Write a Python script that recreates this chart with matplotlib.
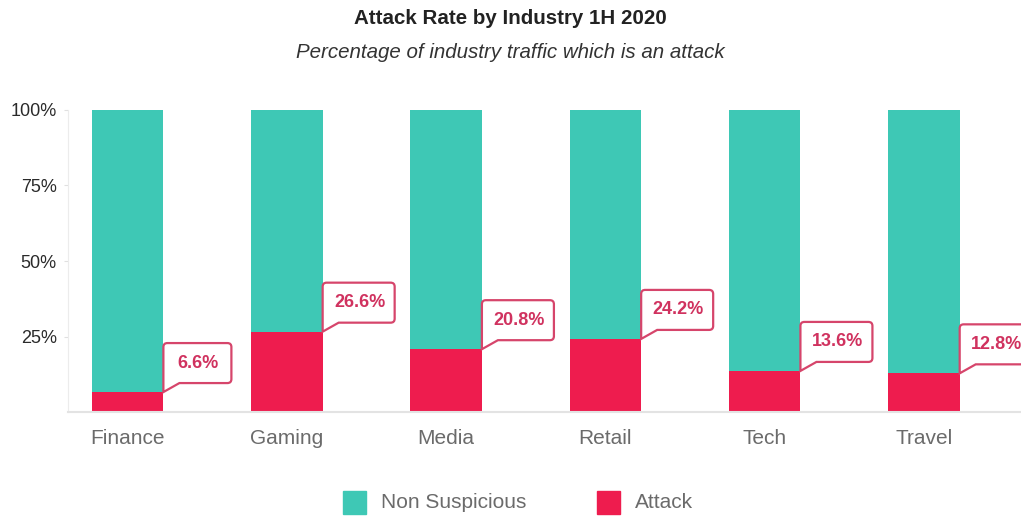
import matplotlib.pyplot as plt
import matplotlib.transforms as transforms
from matplotlib.path import Path
from matplotlib.patches import PathPatch, Rectangle

plt.rcParams['font.family'] = ['Liberation Sans', 'DejaVu Sans']

# data
industries = ["Finance", "Gaming", "Media", "Retail", "Tech", "Travel"]
attack = [6.6, 26.6, 20.8, 24.2, 13.6, 12.8]
non_suspicious = [100 - a for a in attack]
y_ticks = [25, 50, 75, 100]
y_tick_labels = ["25%", "50%", "75%", "100%"]

teal = "#3ec8b5"
red = "#ee1c4e"
pink_edge = "#d6456b"
pink_text = "#d0325f"

fig = plt.figure(figsize=(10.21, 5.16), dpi=100)
ax = fig.add_axes([68 / 1021, 104 / 516, 953 / 1021, 302 / 516])

x = list(range(len(industries)))
width = 0.45
ax.bar(x, attack, width, color=red, zorder=2)
ax.bar(x, non_suspicious, width, bottom=attack, color=teal, zorder=2)

ax.set_xlim(-0.374, 5.61)
ax.set_ylim(0, 100)
ax.set_yticks(y_ticks)
ax.set_yticklabels(y_tick_labels, fontsize=13, color="#2a2a2a")
ax.set_xticks(x)
ax.set_xticklabels(industries, fontsize=15, color="#6b6b6b")
ax.tick_params(axis="x", length=0, pad=12)
ax.tick_params(axis="y", length=3, color="#e0e0e0", pad=5)
for s in ["top", "right"]:
    ax.spines[s].set_visible(False)
ax.spines["left"].set_color("#ececec")
ax.spines["bottom"].set_color("#e3e3e3")
ax.spines["bottom"].set_linewidth(1.5)

# callouts (drawn in pixel offsets from the bar's top-right corner)
for i, a in enumerate(attack):
    label = f"{a}%"
    w = 68 if len(label) <= 4 else 72
    r = 4
    y0, y1 = 9, 49
    verts = [(16, y0), (w - r, y0), (w, y0), (w, y0 + r), (w, y1 - r), (w, y1),
             (w - r, y1), (r, y1), (0, y1), (0, y1 - r), (0, 0), (16, y0)]
    codes = [Path.MOVETO, Path.LINETO, Path.CURVE3, Path.CURVE3, Path.LINETO,
             Path.CURVE3, Path.CURVE3, Path.LINETO, Path.CURVE3, Path.CURVE3,
             Path.LINETO, Path.CLOSEPOLY]
    trans = transforms.IdentityTransform() + transforms.ScaledTranslation(
        i + width / 2, a, ax.transData)
    ax.add_patch(PathPatch(Path(verts, codes), facecolor="white", edgecolor=pink_edge,
                           lw=1.6, transform=trans, clip_on=False, zorder=3))
    ax.text(w / 2 + 1, (y0 + y1) / 2, label, transform=trans, ha="center", va="center",
            fontsize=13, fontweight="bold", color=pink_text, zorder=4, clip_on=False)

# titles
fig.text(0.5, 1 - 18 / 516, "Attack Rate by Industry 1H 2020", ha="center", va="center",
         fontsize=14.8, fontweight="bold", color="#222222")
fig.text(0.5, 1 - 52 / 516, "Percentage of industry traffic which is an attack", ha="center",
         va="center", fontsize=14.8, style="italic", color="#333333")

# legend
fig.patches.append(Rectangle((343 / 1021, 1 - 514 / 516), 23 / 1021, 23 / 516,
                             transform=fig.transFigure, color=teal, figure=fig))
fig.text(381 / 1021, 1 - 502 / 516, "Non Suspicious", va="center", fontsize=15, color="#6b6b6b")
fig.patches.append(Rectangle((597 / 1021, 1 - 514 / 516), 23 / 1021, 23 / 516,
                             transform=fig.transFigure, color=red, figure=fig))
fig.text(635 / 1021, 1 - 502 / 516, "Attack", va="center", fontsize=15, color="#6b6b6b")

fig.savefig("out.png", dpi=100)
